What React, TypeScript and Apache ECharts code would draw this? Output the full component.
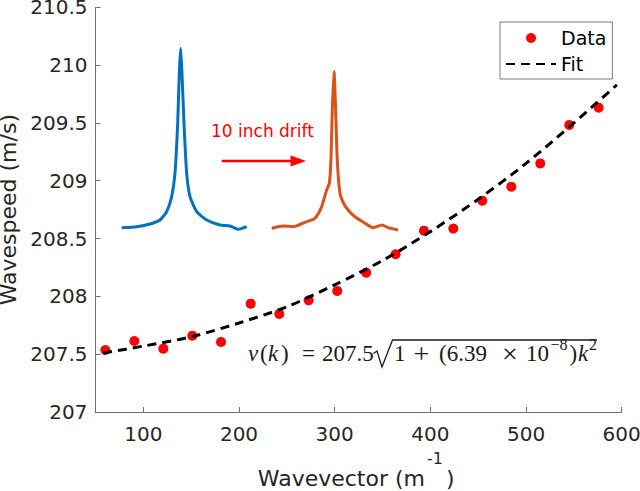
import React, { useEffect, useRef } from 'react';
import * as echarts from 'echarts';

// Measured data (wavevector k in 1/m, wavespeed in m/s)
const dataK = [60.3, 90.6, 120.9, 151.2, 181.2, 212.2, 242.1, 272.8, 302.7, 333.0, 363.7, 393.3, 424.0, 454.3, 484.6, 514.9, 545.2, 575.9];
const dataV = [207.536, 207.614, 207.548, 207.66, 207.606, 207.937, 207.848, 207.966, 208.047, 208.205, 208.364, 208.568, 208.586, 208.828, 208.949, 209.15, 209.483, 209.632];

// Fit curve
const fitK = [58, 100, 150, 200, 250, 300, 350, 400, 450, 500, 550, 595];
const fitV = [207.51, 207.57, 207.65, 207.77, 207.91, 208.10, 208.31, 208.56, 208.84, 209.15, 209.50, 209.83];

// Inset spectra (drawn in data coordinates)
const blueX = [77.4, 93.1, 107.0, 117.4, 124.4, 129.6, 133.1, 135.9, 137.6, 139.0, 140.4, 142.5, 145.3, 148.8, 155.8, 166.2, 180.1, 190.6, 199.2, 208.0];
const blueY = [208.594, 208.603, 208.626, 208.661, 208.733, 208.862, 209.065, 209.497, 209.930, 210.146, 209.930, 209.497, 209.065, 208.862, 208.733, 208.661, 208.617, 208.609, 208.580, 208.603];
const orangeX = [234.2, 246.3, 256.7, 270.7, 279.4, 286.4, 291.6, 294.4, 296.1, 297.5, 299.3, 301.0, 302.7, 305.5, 309.7, 314.9, 321.2, 329.6, 340.0, 349.4, 355.7, 366.2];
const orangeY = [208.589, 208.609, 208.603, 208.646, 208.676, 208.776, 208.920, 208.978, 209.180, 209.612, 209.944, 209.612, 209.180, 208.892, 208.799, 208.739, 208.689, 208.644, 208.594, 208.618, 208.594, 208.574];

const xTicks = [100, 200, 300, 400, 500, 600];

const SANS = 'DejaVu Sans';
const SERIF = 'Liberation Serif';
const TXT = '#262626';
const AX = '#6e6e6e';
const INK = '#1a1a1a';

const zip = (a: number[], b: number[]) => a.map((v, i) => [v, b[i]]);

// formula pieces: [text, left x, y, size, italic]
const formulaPieces: [string, number, number, number, boolean][] = [
  ['v', 248, 353, 23, true],
  ['(', 260, 353, 23, false],
  ['k', 268, 353, 23, true],
  [')', 281, 353, 23, false],
  ['=', 302, 353, 23, false],
  ['207.5', 322, 353, 23, false],
  ['1', 394, 353, 23, false],
  ['+', 413.5, 353, 28, false],
  ['(6.39', 439, 353, 23, false],
  ['×', 502, 353, 28, false],
  ['10', 526, 353, 23, false],
  ['−8', 550.5, 344, 16, false],
  [')', 569.5, 353, 23, false],
  ['k', 578, 353, 23, true],
  ['2', 589, 344, 16, false],
];

export default function App() {
  const ref = useRef<HTMLDivElement>(null);
  useEffect(() => {
    if (!ref.current) return;
    const chart = echarts.init(ref.current, null, { renderer: 'svg' });
    const formulaGraphics = formulaPieces.map(([t, x, y, s, it]) => ({
      type: 'text', x, y,
      style: {
        text: t, fill: INK, fontSize: s, fontFamily: SERIF, fontStyle: it ? 'italic' : 'normal',
        align: 'left', verticalAlign: 'middle',
      },
    }));
    chart.setOption({
      animation: false,
      backgroundColor: '#ffffff',
      grid: { left: 95.5, right: 18.3, top: 7.3, bottom: 79, containLabel: false, outerBoundsMode: 'none' },
      xAxis: {
        type: 'value', min: 50, max: 600,
        axisLine: { show: true, lineStyle: { color: AX, width: 1 } },
        axisTick: { show: true, inside: true, length: 5, lineStyle: { color: AX }, customValues: xTicks },
        axisLabel: { fontSize: 20, fontFamily: SANS, color: TXT, margin: 12, customValues: xTicks },
        splitLine: { show: false },
      },
      yAxis: {
        type: 'value', min: 207, max: 210.5, interval: 0.5,
        name: 'Wavespeed (m/s)', nameLocation: 'middle', nameGap: 66,
        nameTextStyle: { fontSize: 22, fontFamily: SANS, color: TXT, lineHeight: 22 },
        axisLine: { show: true, lineStyle: { color: AX, width: 1 } },
        axisTick: { show: true, inside: true, length: 5, lineStyle: { color: AX } },
        axisLabel: { fontSize: 20, fontFamily: SANS, color: TXT, margin: 8, lineHeight: 14 },
        splitLine: { show: false },
      },
      legend: {
        data: [
          { name: 'Data', icon: 'circle' },
          { name: 'Fit', itemStyle: { opacity: 0 } },
        ],
        orient: 'vertical', left: 500, top: 22,
        padding: [6, 6, 5, 5], itemGap: 6, itemWidth: 50, itemHeight: 10,
        borderColor: '#7a7a7a', borderWidth: 1, backgroundColor: '#ffffff',
        textStyle: { fontSize: 19, fontFamily: SANS, color: '#000', lineHeight: 20 },
        selectedMode: false,
      },
      series: [
        { name: 'blue', type: 'line', data: zip(blueX, blueY), showSymbol: false, smooth: 0.2,
          lineStyle: { color: '#0072BD', width: 3 }, itemStyle: { color: '#0072BD' } },
        { name: 'orange', type: 'line', data: zip(orangeX, orangeY), showSymbol: false, smooth: 0.2,
          lineStyle: { color: '#D95319', width: 3 }, itemStyle: { color: '#D95319' } },
        { name: 'Data', type: 'scatter', data: zip(dataK, dataV), symbol: 'circle', symbolSize: 10,
          itemStyle: { color: '#ff0000', opacity: 1 } },
        { name: 'Fit', type: 'line', data: zip(fitK, fitV), showSymbol: false, symbol: 'none', smooth: 0.3,
          lineStyle: { color: '#000000', width: 3, type: [9, 6] }, itemStyle: { color: '#000000' } },
      ],
      graphic: [
        { type: 'text', x: 211, y: 131,
          style: { text: '10 inch drift', fill: '#ff0000', fontSize: 17, fontFamily: SANS, align: 'left', verticalAlign: 'middle' } },
        { type: 'line', shape: { x1: 221.7, y1: 161, x2: 293, y2: 161 }, style: { stroke: '#ff0000', lineWidth: 2.5 } },
        { type: 'polygon', shape: { points: [[306, 161], [290.5, 155.5], [290.5, 166.5]] }, style: { fill: '#ff0000' } },
        { type: 'polyline', shape: { points: [[373.5, 353.5], [377, 351], [382, 367], [392.5, 340], [597, 340]] },
          style: { stroke: INK, lineWidth: 1.3, fill: null } },
        ...formulaGraphics,
        // x-axis title: main part right-anchored where the superscript starts
        { type: 'text', x: 425, y: 478,
          style: { text: 'Wavevector (m', fill: TXT, fontSize: 22, fontFamily: SANS, align: 'right', verticalAlign: 'middle' } },
        { type: 'text', x: 427, y: 458,
          style: { text: '-1', fill: TXT, fontSize: 16, fontFamily: SANS, align: 'left', verticalAlign: 'middle' } },
        { type: 'text', x: 446, y: 478,
          style: { text: ')', fill: TXT, fontSize: 22, fontFamily: SANS, align: 'left', verticalAlign: 'middle' } },
      ],
    });
    return () => chart.dispose();
  }, []);
  return <div ref={ref} style={{ position: 'fixed', left: 0, top: 0, width: 640, height: 491 }} />;
}
